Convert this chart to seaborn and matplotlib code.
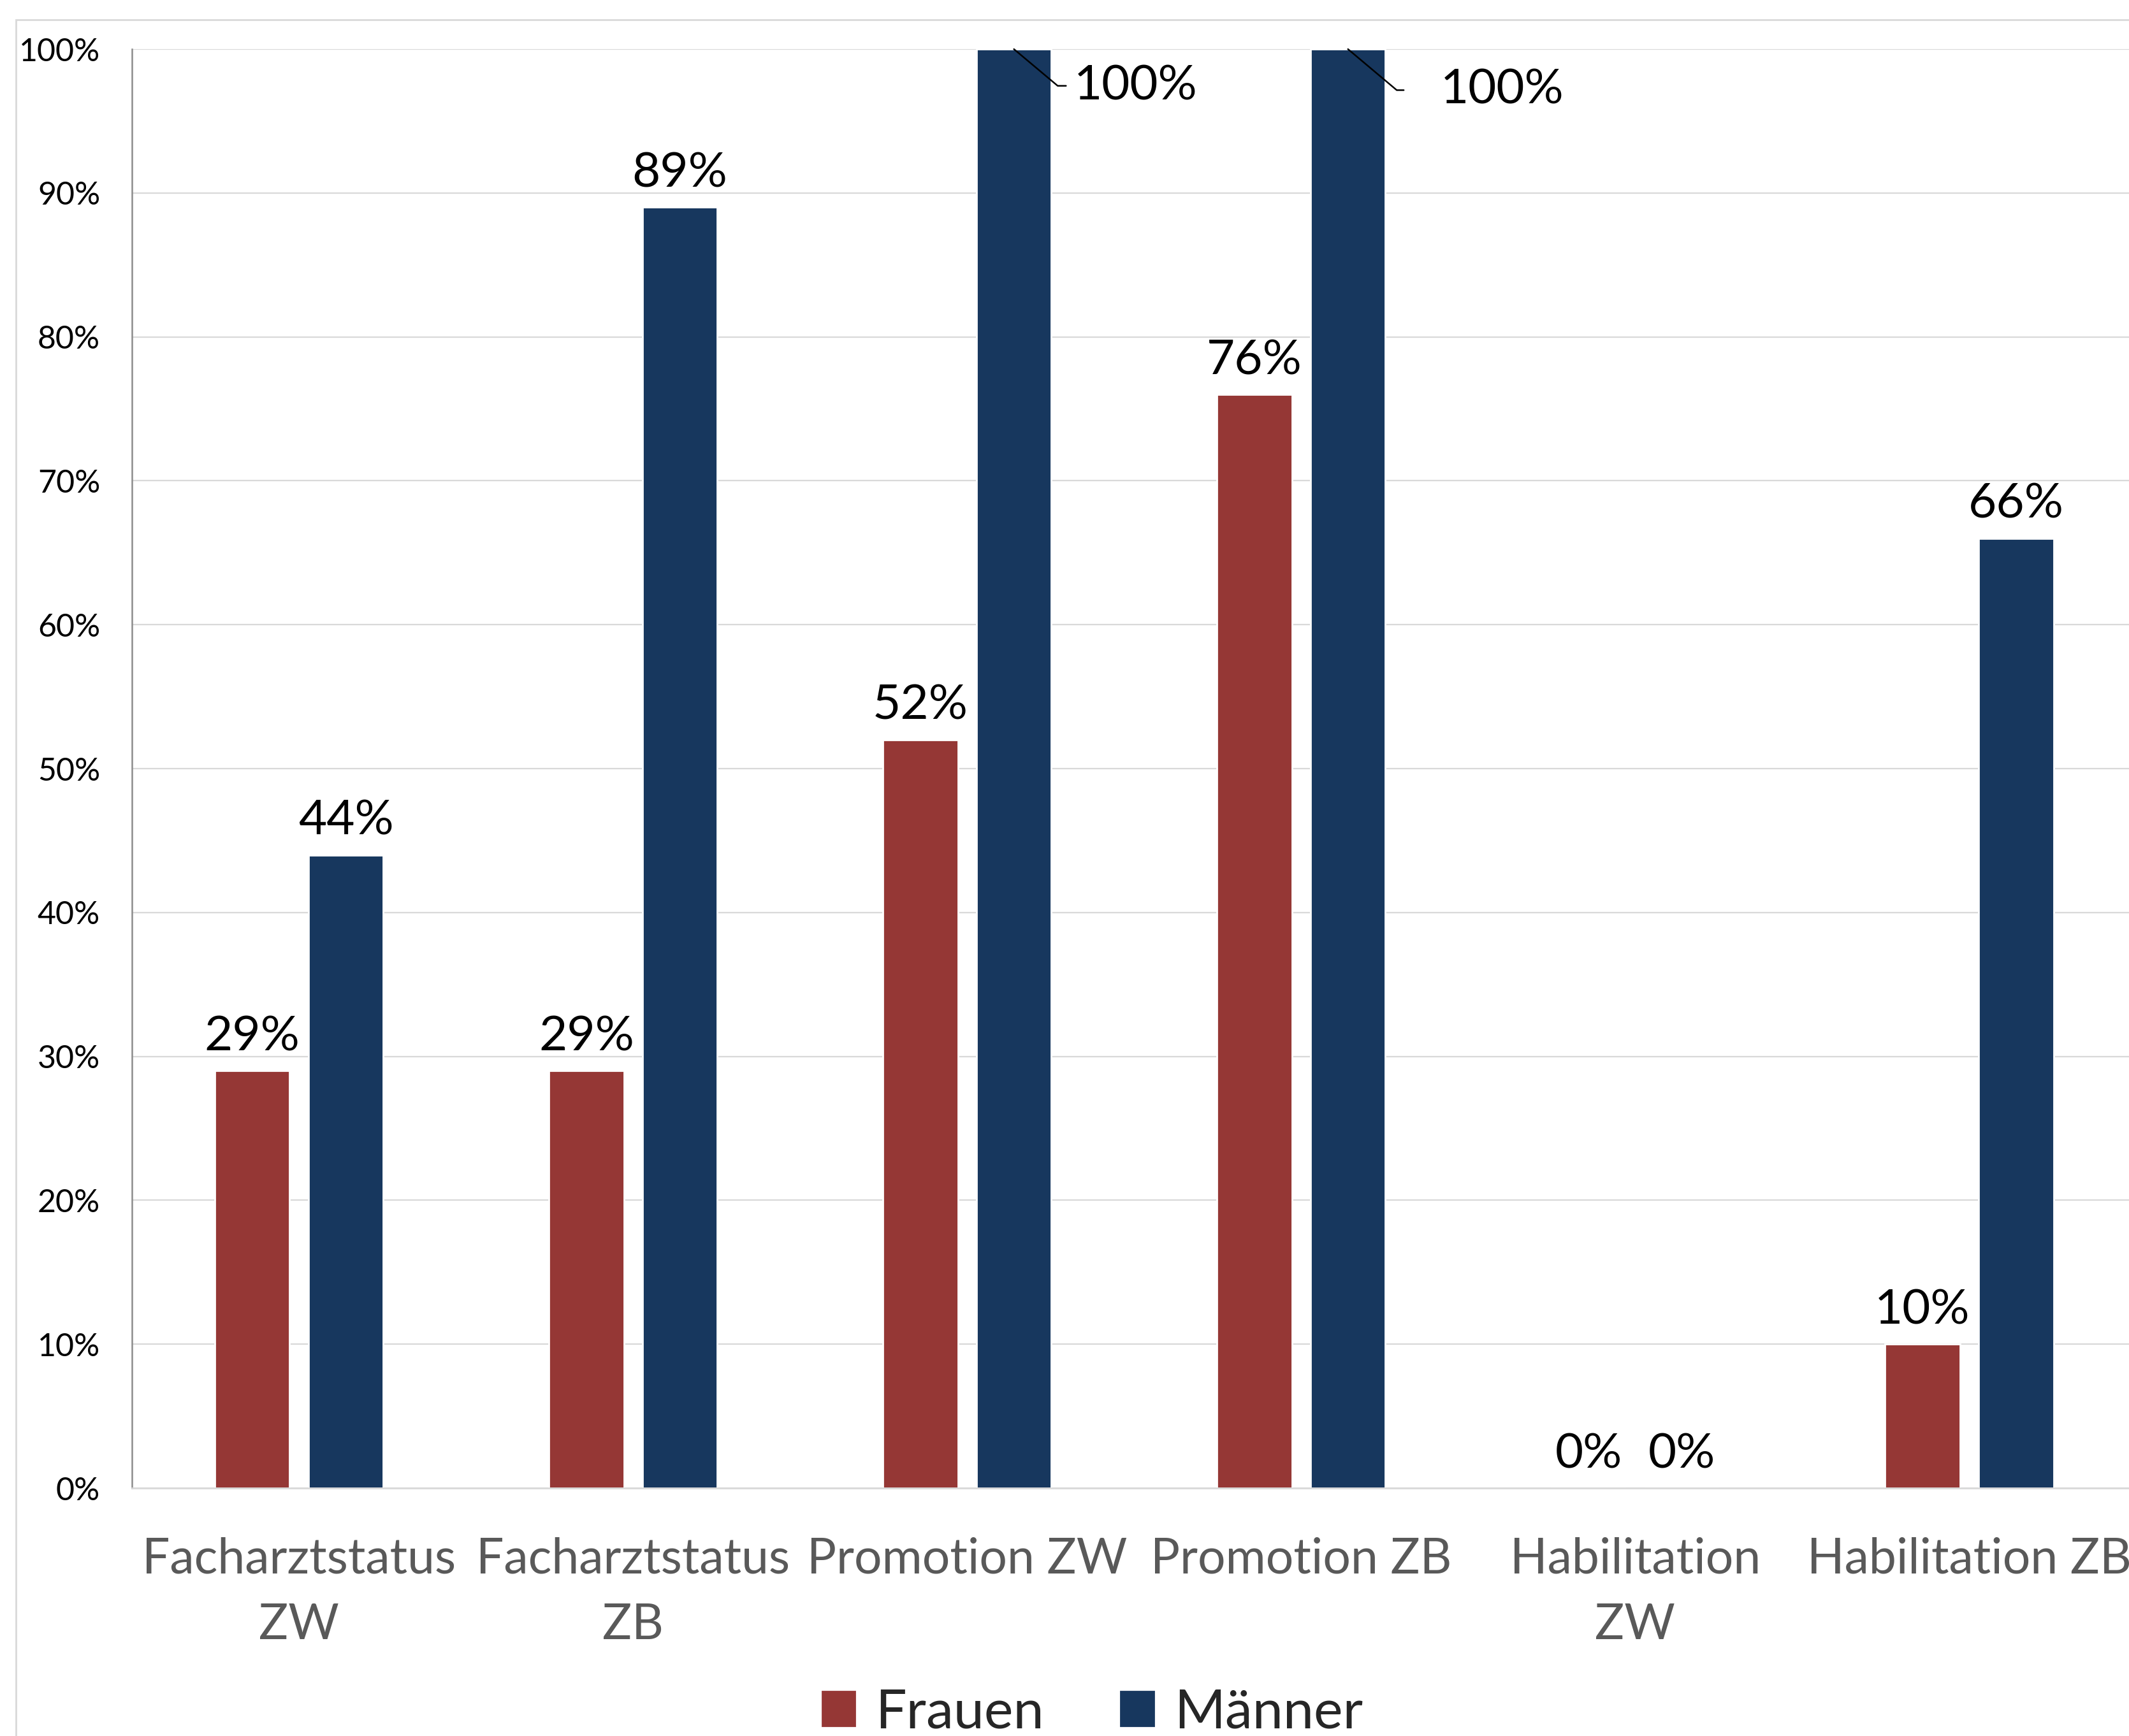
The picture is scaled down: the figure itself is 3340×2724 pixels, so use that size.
import matplotlib
matplotlib.use("Agg")
import pandas as pd
import seaborn as sns
from matplotlib import pyplot as plt
from matplotlib.patches import Rectangle

categories = [
    "Facharztstatus\nZW",
    "Facharztstatus\nZB",
    "Promotion ZW",
    "Promotion ZB",
    "Habilitation\nZW",
    "Habilitation ZB",
]
frauen = [29, 29, 52, 76, 0, 10]
maenner = [44, 89, 100, 100, 0, 66]
series_names = ["Frauen", "Männer"]
y_ticks = list(range(0, 101, 10))

COLORS = ["#953735", "#17375E"]
FONT = ["Lato", "DejaVu Sans"]

df = pd.DataFrame(
    {
        "Kategorie": categories * 2,
        "Anteil": frauen + maenner,
        "Geschlecht": [series_names[0]] * len(categories) + [series_names[1]] * len(categories),
    }
)

sns.set_theme(style="white")
plt.rcParams["font.family"] = FONT

fig = plt.figure(figsize=(3341 / 200, 2724 / 200), dpi=200)
ax = fig.add_axes([0.062, 0.1428, 0.938, 0.9717 - 0.1428])

sns.barplot(
    data=df,
    x="Kategorie",
    y="Anteil",
    hue="Geschlecht",
    palette=COLORS,
    width=0.56,
    gap=0.2,
    saturation=1,
    errorbar=None,
    ax=ax,
)
ax.get_legend().remove()

ax.set_ylim(0, 100)
ax.set_xlim(-0.5, 5.48)
ax.set_yticks(y_ticks)
ax.set_yticklabels([f"{t}%" for t in y_ticks], fontsize=18, color="black")
ax.tick_params(axis="y", length=0, pad=18)
ax.tick_params(axis="x", length=0, pad=27.5, labelsize=27.7, labelcolor="#595959")
for lbl in ax.get_xticklabels():
    lbl.set_linespacing(1.58)
ax.set_xlabel("")
ax.set_ylabel("")

ax.yaxis.grid(True, color="#D9D9D9", linewidth=0.8)
ax.set_axisbelow(True)
for side in ["top", "right"]:
    ax.spines[side].set_visible(False)
ax.spines["left"].set_color("#8C8C8C")
ax.spines["left"].set_linewidth(0.9)
ax.spines["bottom"].set_color("#D9D9D9")
ax.spines["bottom"].set_linewidth(1.0)

# labels with leader lines for the full bars (dx text, dx elbow, dy, tail)
leader = {
    "Promotion ZW": (0.18, 0.131, 2.55, 0.025),
    "Promotion ZB": (0.276, 0.146, 2.85, 0.021),
}

for container, values in zip(ax.containers, [frauen, maenner]):
    for bar, val, cat in zip(container, values, categories):
        cx = bar.get_x() + bar.get_width() / 2
        h = bar.get_height()
        if val == 100 and cat in leader:
            dx, ex, dy, tail = leader[cat]
            ax.plot(
                [cx, cx + ex, cx + ex + tail],
                [h, h - dy, h - dy],
                color="black",
                linewidth=0.9,
                clip_on=False,
                zorder=5,
            )
            ax.text(cx + dx, h - dy, f"{val}%", ha="left", va="center",
                    fontsize=27.5, color="black")
        else:
            ax.annotate(
                f"{val}%",
                xy=(cx, h),
                xytext=(0, 11.5),
                textcoords="offset points",
                ha="center",
                va="baseline",
                fontsize=27.5,
                color="black",
            )

# outer chart border
fig.patches.append(
    Rectangle((25 / 3341, -0.1), 1.2, 1.1 - 31 / 2724, transform=fig.transFigure,
              fill=False, edgecolor="#D9D9D9", linewidth=1.0)
)

handles = [Rectangle((0, 0), 1, 1, color=c) for c in COLORS]
fig.legend(
    handles,
    series_names,
    loc="center",
    bbox_to_anchor=(0.513, 0.0135),
    ncol=2,
    frameon=False,
    fontsize=31,
    handlelength=0.6,
    handleheight=0.6,
    handletextpad=0.37,
    columnspacing=1.4,
    borderpad=0,
)

fig.savefig("out.png", dpi=200)
